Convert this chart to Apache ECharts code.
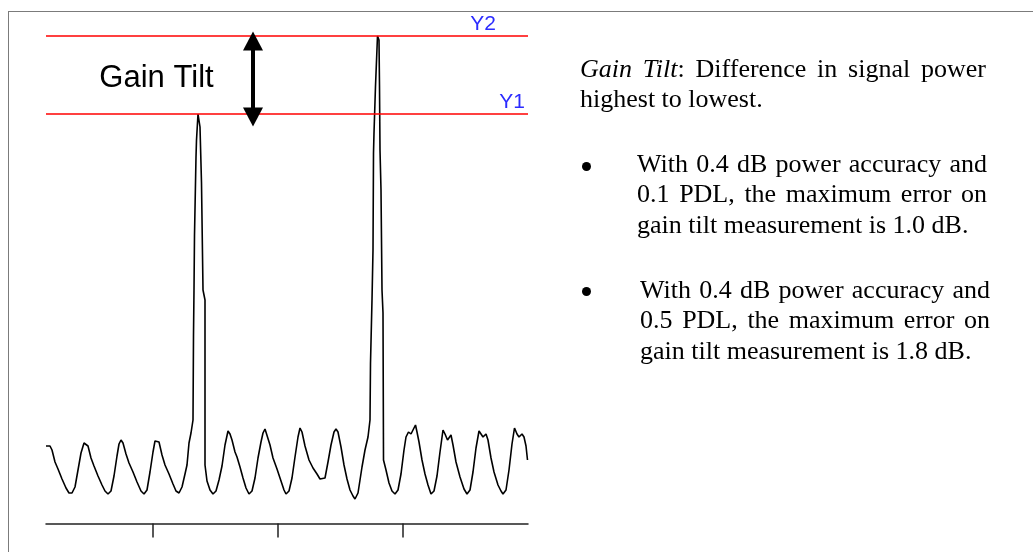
<!DOCTYPE html>
<html lang="en">
<head>
<meta charset="UTF-8">
<title>Gain Tilt</title>
<script src="https://cdn.jsdelivr.net/npm/echarts@6/dist/echarts.min.js"></script>
<style>
    html, body { margin: 0; padding: 0; background: #fff; }
    #frame { position: absolute; left: 8px; top: 11px; width: 1030px; height: 545px;
             border-top: 1px solid #7b7b7b; border-left: 1px solid #7b7b7b; }
    #spectrum { position: absolute; left: 0; top: 0; width: 1033px; height: 552px; }
    .notes { position: absolute; font-family: "Liberation Serif", "Times New Roman", serif;
             font-size: 26px; line-height: 30.4px; color: #000; text-align: justify; }
    .notes .dot { position: absolute; left: 0; width: 9px; height: 9px; border-radius: 50%;
                  background: #000; }
</style>
</head>
<body>
<div id="frame"></div>
<div id="spectrum"></div>

<div class="notes" style="left:580px; top:54px; width:406px;"><i>Gain Tilt</i>: Difference in signal power highest to lowest.</div>
<div class="notes" style="left:582px; top:149px;">
    <span class="dot" style="top:13px;"></span>
    <div style="margin-left:55px; width:350px;">With 0.4 dB power accuracy and 0.1 PDL, the maximum error on gain tilt measurement is 1.0 dB.</div>
</div>
<div class="notes" style="left:582px; top:275px;">
    <span class="dot" style="top:12px;"></span>
    <div style="margin-left:58px; width:350px;">With 0.4 dB power accuracy and 0.5 PDL, the maximum error on gain tilt measurement is 1.8 dB.</div>
</div>

<script>
// OSA trace, wavelength (nm) and power (dBm)
var wavelength = [
    1531.44, 1531.60, 1531.76, 1531.92, 1532.16, 1532.40, 1532.72, 1533.04, 1533.28, 1533.52,
    1533.76, 1534.00, 1534.24, 1534.48, 1534.64, 1534.80, 1535.04, 1535.28, 1535.60, 1535.92,
    1536.16, 1536.40, 1536.64, 1536.88, 1537.12, 1537.28, 1537.44, 1537.60, 1537.84, 1538.08,
    1538.40, 1538.72, 1539.04, 1539.28, 1539.52, 1539.76, 1540.00, 1540.16, 1540.32, 1540.48,
    1540.72, 1540.96, 1541.28, 1541.60, 1541.84, 1542.08, 1542.32, 1542.56, 1542.72, 1542.88,
    1543.04, 1543.20, 1543.24, 1543.28, 1543.32, 1543.44, 1543.48, 1543.60, 1543.68, 1543.76,
    1543.88, 1544.00, 1544.16, 1544.16, 1544.32, 1544.56, 1544.80, 1545.04, 1545.28, 1545.52,
    1545.76, 1546.00, 1546.16, 1546.32, 1546.56, 1546.72, 1546.96, 1547.20, 1547.44, 1547.68,
    1547.92, 1548.16, 1548.40, 1548.64, 1548.80, 1548.96, 1549.12, 1549.36, 1549.60, 1549.92,
    1550.24, 1550.48, 1550.64, 1550.88, 1551.12, 1551.36, 1551.60, 1551.76, 1551.92, 1552.16,
    1552.48, 1552.80, 1553.12, 1553.36, 1553.52, 1553.76, 1554.00, 1554.24, 1554.48, 1554.64,
    1554.80, 1555.04, 1555.28, 1555.52, 1555.76, 1556.00, 1556.16, 1556.40, 1556.72, 1556.96,
    1557.20, 1557.36, 1557.40, 1557.52, 1557.60, 1557.64, 1557.68, 1557.80, 1557.96, 1558.08,
    1558.12, 1558.16, 1558.24, 1558.32, 1558.40, 1558.44, 1558.64, 1558.88, 1559.12, 1559.36,
    1559.60, 1559.84, 1560.08, 1560.24, 1560.44, 1560.64, 1560.80, 1561.00, 1561.12, 1561.28,
    1561.52, 1561.76, 1562.00, 1562.24, 1562.48, 1562.72, 1562.96, 1563.20, 1563.36, 1563.56,
    1563.84, 1564.00, 1564.24, 1564.56, 1564.88, 1565.12, 1565.36, 1565.60, 1565.84, 1566.08,
    1566.24, 1566.40, 1566.64, 1566.80, 1567.04, 1567.28, 1567.60, 1567.84, 1568.00, 1568.24,
    1568.48, 1568.72, 1568.92, 1569.12, 1569.28, 1569.52, 1569.68, 1569.84, 1569.96
];
var power = [
    -42.80, -42.64, -42.80, -43.12, -44.08, -44.64, -45.44, -46.16, -46.56, -46.56,
    -46.08, -44.72, -43.36, -42.56, -42.48, -42.80, -43.76, -44.40, -45.20, -45.92,
    -46.40, -46.64, -46.40, -45.20, -43.60, -42.64, -42.32, -42.56, -43.44, -44.16,
    -44.88, -45.68, -46.40, -46.64, -46.32, -44.88, -43.28, -42.40, -42.24, -42.48,
    -43.52, -44.32, -45.04, -45.84, -46.40, -46.56, -46.08, -45.04, -44.32, -42.56,
    -41.76, -40.72, -33.92, -30.32, -25.92, -19.68, -18.32, -16.24, -16.40, -17.28,
    -21.76, -30.32, -31.12, -44.32, -45.60, -46.32, -46.64, -46.40, -45.52, -44.40,
    -42.72, -41.60, -41.84, -42.32, -43.28, -43.68, -44.48, -45.36, -46.16, -46.64,
    -46.40, -45.36, -43.76, -42.48, -41.76, -41.44, -41.60, -42.72, -43.76, -44.64,
    -45.60, -46.32, -46.64, -46.40, -45.36, -43.68, -42.08, -41.36, -41.68, -42.80,
    -43.92, -44.56, -45.04, -45.44, -45.60, -45.36, -44.08, -42.72, -41.68, -41.44,
    -41.68, -42.88, -44.32, -45.44, -46.32, -46.80, -47.04, -46.56, -44.48, -43.12,
    -42.08, -40.72, -36.16, -31.12, -27.12, -19.36, -17.76, -14.00, -10.00, -10.32,
    -14.00, -19.12, -22.32, -30.32, -32.16, -43.92, -44.72, -45.76, -46.40, -46.64,
    -46.32, -45.04, -43.12, -42.08, -41.68, -41.84, -41.52, -41.12, -41.68, -42.48,
    -43.92, -45.04, -45.92, -46.64, -46.40, -45.20, -43.28, -41.52, -41.84, -42.32,
    -41.92, -42.72, -44.08, -45.28, -46.24, -46.64, -46.32, -44.88, -42.96, -41.60,
    -41.76, -42.08, -41.84, -42.32, -43.76, -44.88, -45.92, -46.40, -46.64, -46.32,
    -44.72, -42.64, -41.36, -41.84, -42.08, -41.84, -42.08, -42.80, -43.92
];

// marker lines
var levelNames = ['Y1', 'Y2'];
var levelValues = [-16.24, -10.00];

// x axis tick marks (nm)
var tickWavelengths = [1540, 1550, 1560];

// gain tilt arrow and its caption
var arrowWavelength = 1548.0;
var arrowEnds = [-10.4, -16.48];
var captionText = 'Gain Tilt';
var captionAt = [1540.28, -13.4];

var chart = echarts.init(document.getElementById('spectrum'));

var traceData = wavelength.map(function (w, i) { return [w, power[i]]; });

var levelLines = levelNames.map(function (name, i) {
    return {
        name: name,
        yAxis: levelValues[i],
        label: {
            formatter: name,
            position: 'insideEndTop',
            distance: 1,
            padding: i === 1 ? [0, 31, 0, 0] : [0, 2, 0, 0]
        }
    };
});

var option = {
    animation: false,
    grid: { left: 46, right: 505, top: 36, bottom: 28.5 },
    xAxis: {
        type: 'value',
        min: 1531.44,
        max: 1570,
        axisLine: { show: true, onZero: false, lineStyle: { color: '#222', width: 1.5 } },
        axisTick: { show: true, customValues: tickWavelengths, length: 14, inside: false,
                    lineStyle: { color: '#222', width: 1.5 } },
        axisLabel: { show: false },
        splitLine: { show: false }
    },
    yAxis: {
        type: 'value',
        min: -49,
        max: -10,
        show: false
    },
    series: [
        {
            name: 'trace',
            type: 'line',
            data: traceData,
            symbol: 'none',
            clip: false,
            silent: true,
            lineStyle: { color: '#000', width: 1.6 },
            markLine: {
                silent: true,
                symbol: ['none', 'none'],
                lineStyle: { color: '#ff0000', width: 1.5, type: 'solid' },
                label: {
                    show: true,
                    color: '#2b2bff',
                    fontFamily: 'Liberation Sans',
                    fontSize: 21
                },
                emphasis: { disabled: true },
                data: levelLines
            }
        },
        {
            name: 'tilt',
            type: 'line',
            data: [],
            silent: true,
            markLine: {
                silent: true,
                symbol: ['triangle', 'triangle'],
                symbolSize: [20, 19],
                lineStyle: { color: '#000', width: 4, type: 'solid' },
                itemStyle: { color: '#000' },
                label: { show: false },
                emphasis: { disabled: true },
                data: [[
                    { coord: [arrowWavelength, arrowEnds[0]] },
                    { coord: [arrowWavelength, arrowEnds[1]] }
                ]]
            },
            markPoint: {
                silent: true,
                symbol: 'rect',
                symbolSize: 0,
                label: {
                    show: true,
                    position: 'inside',
                    formatter: captionText,
                    color: '#000',
                    fontFamily: 'Liberation Sans',
                    fontSize: 31
                },
                data: [{ coord: captionAt }]
            }
        }
    ]
};

chart.setOption(option);
</script>
</body>
</html>
